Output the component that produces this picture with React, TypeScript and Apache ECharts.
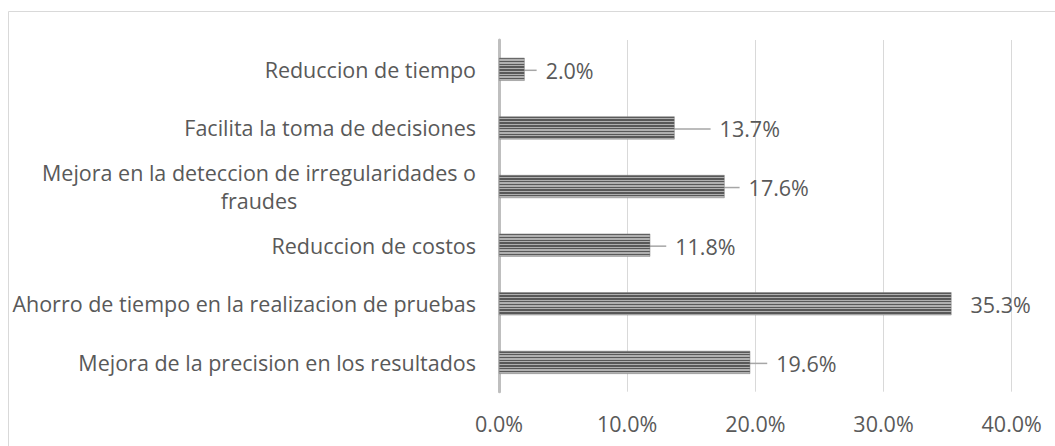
import React, { useEffect, useRef } from "react";
import * as echarts from "echarts";

const categories: string[] = [
  "Reduccion de tiempo",
  "Facilita la toma de decisiones",
  "Mejora en la deteccion de irregularidades o\nfraudes",
  "Reduccion de costos",
  "Ahorro de tiempo en la realizacion de pruebas",
  "Mejora de la precision en los resultados",
];
const values: number[] = [2.0, 13.7, 17.6, 11.8, 35.3, 19.6];
const xTicks: number[] = [0, 10, 20, 30, 40];

// label displacement (style), per bar, in px
const labelShift: number[] = [7, 31, 10, 11, 5, 12];
const noLeader: number[] = [4];

const FONT = "'Open Sans', sans-serif";
const TEXT = "#595959";
const FS = 21.5;

function stripes() {
  const stops: { offset: number; color: string }[] = [];
  const n = 8;
  const dark = "#585858";
  const light = "#b0b0b0";
  for (let i = 0; i < n; i++) {
    const a = i / n;
    const b = (i + 0.5) / n;
    const c = (i + 1) / n;
    stops.push({ offset: a, color: dark });
    stops.push({ offset: b, color: dark });
    stops.push({ offset: b, color: light });
    stops.push({ offset: c, color: light });
  }
  return new echarts.graphic.LinearGradient(0, 0, 0, 1, stops);
}

export default function App() {
  const ref = useRef<HTMLDivElement>(null);
  useEffect(() => {
    if (!ref.current) return;
    const chart = echarts.init(ref.current, undefined, { renderer: "svg" });
    chart.setOption({
      animation: false,
      backgroundColor: "#ffffff",
      textStyle: { fontFamily: FONT },
      graphic: [
        {
          type: "rect",
          silent: true,
          z: -10,
          shape: { x: 8.5, y: 11.5, width: 1200, height: 600 },
          style: { fill: "none", stroke: "#d9d9d9", lineWidth: 1 },
        },
      ],
      grid: { left: 499, right: 43.3, top: 40, bottom: 54.3, containLabel: false },
      xAxis: {
        type: "value",
        min: xTicks[0],
        max: xTicks[xTicks.length - 1],
        interval: 10,
        axisLine: { show: false },
        axisTick: { show: false },
        splitLine: { show: true, lineStyle: { color: "#d9d9d9", width: 1 } },
        axisLabel: {
          color: TEXT,
          fontSize: FS,
          fontFamily: FONT,
          margin: 21,
          formatter: (v: number) => v.toFixed(1) + "%",
        },
      },
      yAxis: {
        type: "category",
        inverse: true,
        data: categories,
        axisLine: { show: true, lineStyle: { color: "#bfbfbf", width: 3 } },
        axisTick: { show: false },
        axisLabel: {
          color: TEXT,
          fontSize: FS,
          fontFamily: FONT,
          margin: 23,
          align: "right",
          lineHeight: 28,
          formatter: (v: string) =>
            v
              .split("\n")
              .map((l) => "{c|" + l + "}")
              .join("\n"),
          rich: {
            c: {
              align: "center",
              color: TEXT,
              fontSize: FS,
              fontFamily: FONT,
              lineHeight: 28,
            },
          },
        },
      },
      series: [
        {
          type: "bar",
          barWidth: 23,
          data: values.map((v, i) => ({
            value: v,
            labelLine: { show: noLeader.indexOf(i) < 0 },
          })),
          itemStyle: { color: stripes(), borderColor: "#7f7f7f", borderWidth: 0.5 },
          label: {
            show: true,
            position: "right",
            distance: 5,
            color: TEXT,
            fontSize: FS,
            fontFamily: FONT,
            formatter: (p: any) => "{s| }{v|" + p.value.toFixed(1) + "%}",
            rich: {
              s: { width: 9, fontSize: FS, fontFamily: FONT },
              v: { color: TEXT, fontSize: FS, fontFamily: FONT },
            },
          },
          labelLine: {
            show: true,
            lineStyle: { color: "#a6a6a6", width: 1.5 },
          },
          labelLayout: (p: any) => ({ dx: labelShift[p.dataIndex] || 0, dy: 1 }),
        },
      ],
    });
    return () => chart.dispose();
  }, []);
  return (
    <div
      ref={ref}
      style={{ position: "absolute", left: 0, top: 0, width: 1055, height: 446 }}
    />
  );
}
